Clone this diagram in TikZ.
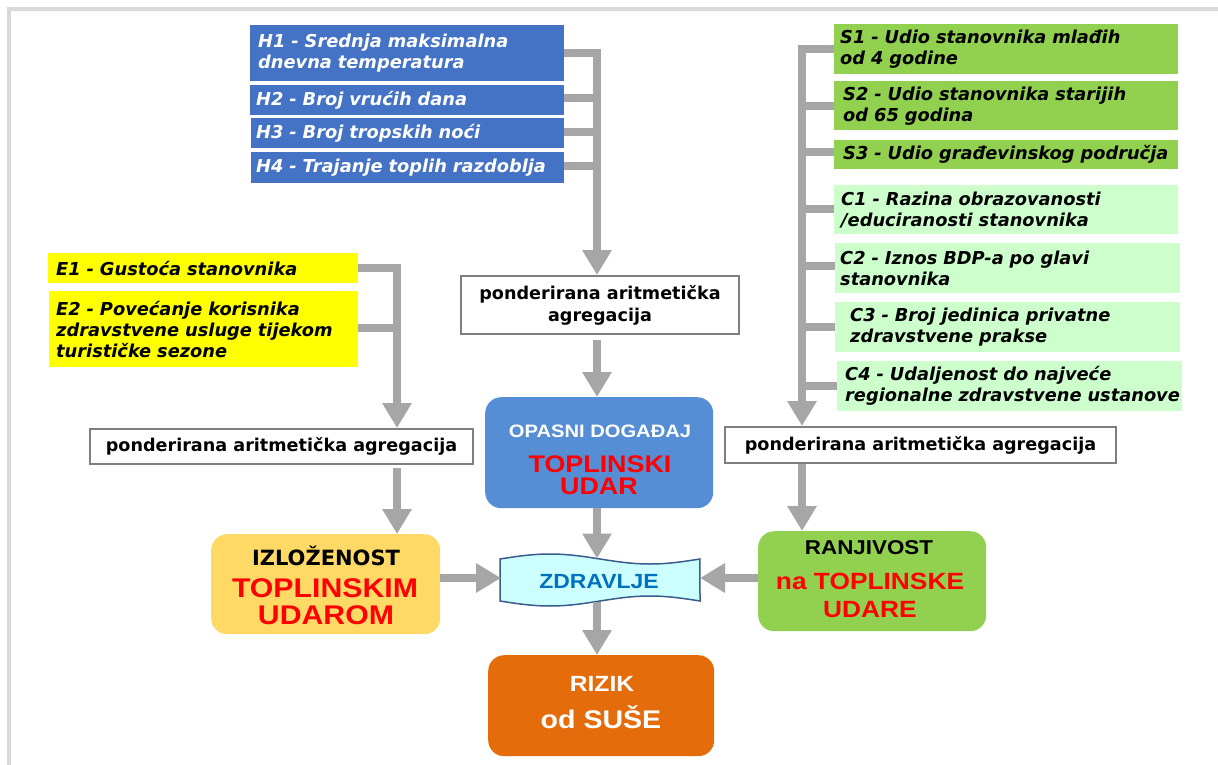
\documentclass[tikz,border=0pt]{standalone}
\usepackage{fontspec}
\setmainfont{DejaVu Sans}[BoldFont={DejaVu Sans Bold},ItalicFont={DejaVu Sans Oblique},BoldItalicFont={DejaVu Sans Bold Oblique}]
\newfontfamily\afont{Liberation Sans Bold}[FakeStretch=1.12]
\newfontfamily\vbfont{DejaVu Sans Bold}
\usetikzlibrary{arrows.meta,calc}
\definecolor{hblue}{HTML}{4472C4}
\definecolor{sgreen}{HTML}{92D050}
\definecolor{cgreen}{HTML}{CCFFCC}
\definecolor{eyellow}{HTML}{FFFF00}
\definecolor{agggray}{HTML}{7F7F7F}
\definecolor{bargray}{HTML}{A6A6A6}
\definecolor{framegray}{HTML}{D9D9D9}
\definecolor{hazblue}{HTML}{558ED5}
\definecolor{expyellow}{HTML}{FFD966}
\definecolor{rizorange}{HTML}{E46C0A}
\definecolor{zdrfill}{HTML}{CCFFFF}
\definecolor{zdrline}{HTML}{385D8A}
\definecolor{zdrtext}{HTML}{0070C0}
\definecolor{redtxt}{HTML}{FF0000}
\newcommand\keepline[1]{\mbox{#1}}
\begin{document}
\begin{tikzpicture}[x=1pt,y=-1pt,
  ibox/.style={anchor=north west, inner ysep=0pt, align=left, font=\fontsize{17.8}{21}\selectfont\bfseries\itshape},
  hbox/.style={ibox, fill=hblue, text=white},
  sbox/.style={ibox, fill=sgreen, text=black},
  cbox/.style={ibox, fill=cgreen, text=black},
  ebox/.style={ibox, fill=eyellow, text=black},
  agg/.style={draw=agggray, line width=2pt, fill=white, anchor=north west, align=center, inner sep=0pt, font=\fontsize{17.6}{22}\selectfont\bfseries},
  rbox/.style={rounded corners=16pt, anchor=north west, inner sep=0pt},
  bar/.style={draw=bargray, line width=8pt},
  arr/.style={bar, -{Triangle[width=28pt,length=25pt]}},
  ttl/.style={anchor=base, inner sep=0pt},
]
\useasboundingbox (0,0) rectangle (1218,765);
\fill[white] (0,0) rectangle (1218,765);
% frame
\draw[framegray, line width=4pt] (9,765) -- (9,9) -- (1218,9);

% H boxes
\node[hbox, inner xsep=8pt, text width=298pt, minimum height=56pt] (h1) at (250,25) {\keepline{H1 - Srednja maksimalna}\\\keepline{dnevna temperatura}};
\node[hbox, inner xsep=6pt, text width=302pt, minimum height=30pt] (h2) at (250,85) {\keepline{H2 - Broj vrućih dana}};
\node[hbox, inner xsep=5pt, text width=303pt, minimum height=30pt] (h3) at (251,118) {\keepline{H3 - Broj tropskih noći}};
\node[hbox, inner xsep=5pt, text width=303pt, minimum height=31pt] (h4) at (251,152) {\keepline{H4 - Trajanje toplih razdoblja}};

% S and C boxes
\node[sbox, inner xsep=6pt, text width=332pt, minimum height=50pt] (s1) at (834,24) {\keepline{S1 - Udio stanovnika mlađih}\\\keepline{od 4 godine}};
\node[sbox, inner xsep=9pt, text width=326pt, minimum height=49pt] (s2) at (834,81) {\keepline{S2 - Udio stanovnika starijih}\\\keepline{od 65 godina}};
\node[sbox, inner xsep=9pt, text width=326pt, minimum height=29pt] (s3) at (834,140) {\keepline{S3 - Udio građevinskog područja}};
\node[cbox, inner xsep=7pt, text width=330pt, minimum height=49pt] (c1) at (834,185) {\keepline{C1 - Razina obrazovanosti}\\\keepline{/educiranosti stanovnika}};
\node[cbox, inner xsep=5pt, text width=335pt, minimum height=50pt] (c2) at (835,243) {\keepline{C2 - Iznos BDP-a po glavi}\\\keepline{stanovnika}};
\node[cbox, inner xsep=15pt, text width=315pt, minimum height=50pt] (c3) at (835,302) {\keepline{C3 - Broj jedinica privatne}\\\keepline{zdravstvene prakse}};
\node[cbox, inner xsep=8pt, text width=329pt, minimum height=50pt] (c4) at (837,361) {\keepline{C4 - Udaljenost do najveće}\\\keepline{regionalne zdravstvene ustanove}};

% E boxes
\node[ebox, inner xsep=8pt, text width=294pt, minimum height=30pt] (e1) at (48,253) {\keepline{E1 - Gustoća stanovnika}};
\node[ebox, inner xsep=7pt, text width=295pt, minimum height=76pt] (e2) at (49,291) {\keepline{E2 - Povećanje korisnika}\\\keepline{zdravstvene usluge tijekom}\\\keepline{turističke sezone}};

% aggregation boxes
\node[agg, minimum width=278pt, minimum height=58pt] (aggC) at (460,275) {ponderirana aritmetička\\agregacija};
\node[agg, minimum width=383pt, minimum height=35pt] (aggL) at (89,428) {ponderirana aritmetička agregacija};
\node[agg, minimum width=391pt, minimum height=36pt] (aggR) at (724,426) {ponderirana aritmetička agregacija};

% main rounded boxes
\node[rbox, fill=hazblue, minimum width=228pt, minimum height=111pt] (opasni) at (485,397) {};
\node[rbox, fill=expyellow, minimum width=229pt, minimum height=100pt] (izl) at (211,534) {};
\node[rbox, fill=sgreen, minimum width=228pt, minimum height=100pt] (ranj) at (758,531) {};
\node[rbox, fill=rizorange, minimum width=226pt, minimum height=101pt] (rizik) at (488,655) {};

% ZDRAVLJE punched tape
\filldraw[fill=zdrfill, draw=zdrline, line width=1.5pt]
  plot[domain=0:1, samples=41] ({500+200*\x},{559-5*sin(360*\x)})
  -- plot[domain=1:0, samples=41] ({500+200*\x},{601+5*sin(360*\x)}) -- cycle;
\coordinate (zdrN) at (597,558.5);
\coordinate (zdrS) at (597,601.5);
\coordinate (zdrW) at (501,578);
\coordinate (zdrE) at (700,578);

% texts in main boxes
\node[ttl, font=\afont\fontsize{18}{18}\selectfont, text=white] (opA) at (600,437) {OPASNI DOGAĐAJ};
\node[ttl, font=\afont\fontsize{24}{24}\selectfont, text=redtxt] (opB) at (600,472) {TOPLINSKI};
\node[ttl, font=\afont\fontsize{24}{24}\selectfont, text=redtxt] (opC) at (599,494) {UDAR};
\node[ttl, font=\afont\fontsize{20.5}{20.5}\selectfont, text=zdrtext] (zdr) at (599,588) {ZDRAVLJE};
\node[ttl, font=\vbfont\fontsize{21}{21}\selectfont, text=black] (izA) at (326,565) {IZLOŽENOST};
\node[ttl, font=\afont\fontsize{27}{27}\selectfont, text=redtxt] (izB) at (325,597) {TOPLINSKIM};
\node[ttl, font=\afont\fontsize{27}{27}\selectfont, text=redtxt] (izC) at (326,624) {UDAROM};
\node[ttl, font=\afont\fontsize{20}{20}\selectfont, text=black] (raA) at (869,554) {RANJIVOST};
\node[ttl, font=\afont\fontsize{23.5}{23.5}\selectfont, text=redtxt] (raB) at (870,589) {na TOPLINSKE};
\node[ttl, font=\afont\fontsize{23.5}{23.5}\selectfont, text=redtxt] (raC) at (870,617) {UDARE};
\node[ttl, font=\afont\fontsize{22}{22}\selectfont, text=white] (riA) at (602,691) {RIZIK};
\node[ttl, font=\afont\fontsize{25.5}{25.5}\selectfont, text=white] (riB) at (601,728) {od SUŠE};

% bus coordinates
\coordinate (hbus) at (597,53);
\coordinate (ebus) at (397,268);
\coordinate (sbus) at (802,49);

% H bus
\draw[arr] (h1.east |- hbus) -- (hbus) -- (aggC.north -| hbus);
\draw[bar] (h2.east |- 0,98) -- (597,98);
\draw[bar] (h3.east |- 0,132) -- (597,132);
\draw[bar] (h4.east |- 0,166) -- (597,166);

% E bus
\draw[arr] (e1.east |- ebus) -- (ebus) -- (aggL.north -| ebus);
\draw[bar] (e2.east |- 0,328) -- (397,328);

% S/C bus
\draw[arr] (s1.west |- sbus) -- (sbus) -- (aggR.north -| sbus);
\draw[bar] (s2.west |- 0,106) -- (802,106);
\draw[bar] (s3.west |- 0,152) -- (802,152);
\draw[bar] (c1.west |- 0,209) -- (802,209);
\draw[bar] (c2.west |- 0,266) -- (802,266);
\draw[bar] (c3.west |- 0,327) -- (802,327);
\draw[bar] (c4.west |- 0,386) -- (802,386);

% vertical flow
\draw[arr, shorten <=5pt] (aggC.south -| hbus) -- (opasni.north -| hbus);
\draw[arr, shorten <=3pt] (aggL.south -| ebus) -- (izl.north -| ebus);
\draw[arr] (aggR.south -| sbus) -- (ranj.north -| sbus);
\draw[arr] (opasni.south -| hbus) -- (zdrN);
\draw[arr] (zdrS) -- (rizik.north -| hbus);
\draw[arr] (izl.east |- zdrW) -- (zdrW);
\draw[arr] (ranj.west |- zdrE) -- (zdrE);
\end{tikzpicture}
\end{document}
